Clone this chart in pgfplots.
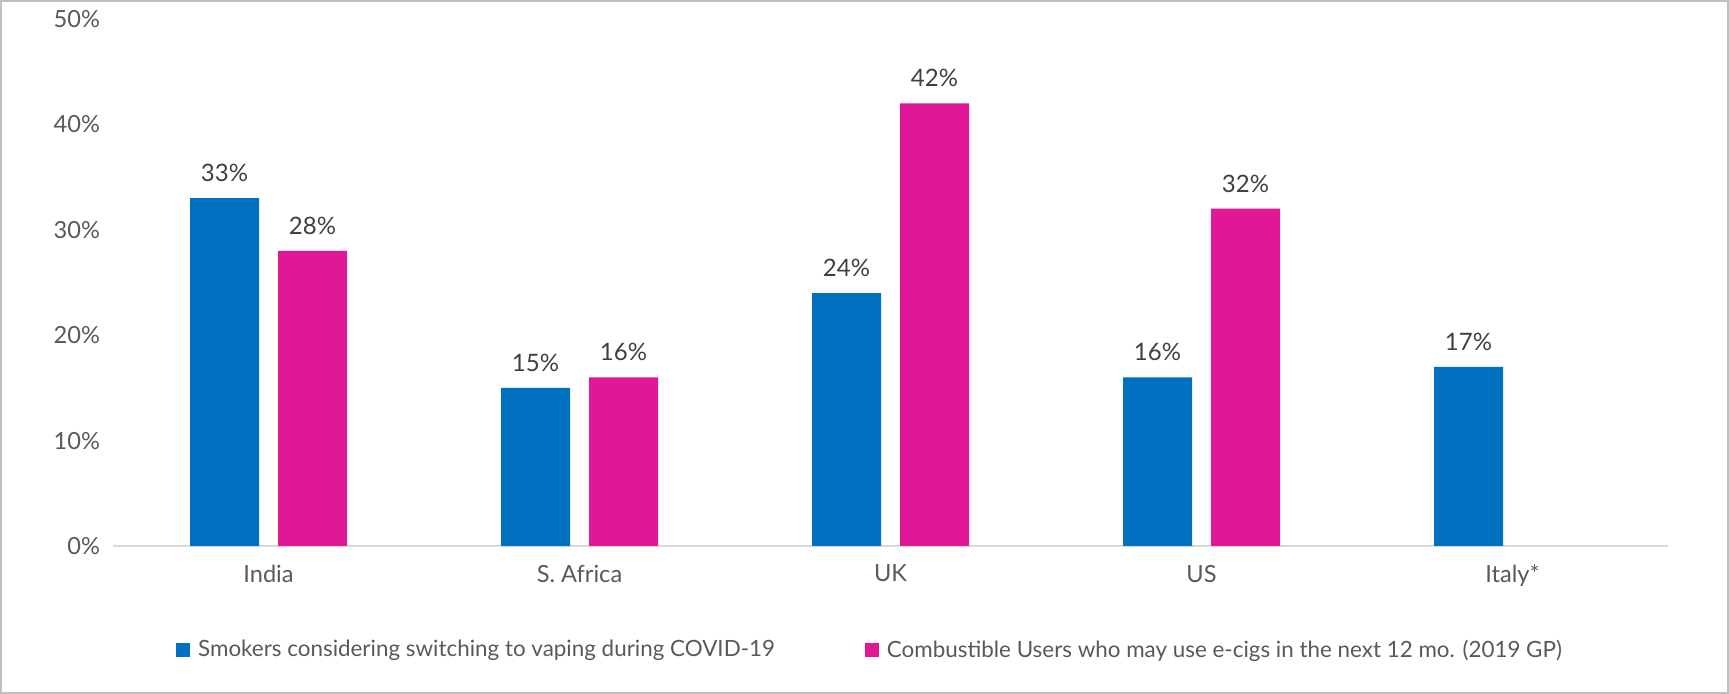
\documentclass[border=0pt]{standalone}
\usepackage{fontspec}
\setmainfont{Lato}
\usepackage{pgfplots}
\pgfplotsset{compat=1.18}
\definecolor{barblue}{RGB}{0,112,192}
\definecolor{barpink}{RGB}{224,24,150}
\definecolor{ticktext}{RGB}{89,89,89}
\definecolor{valtext}{RGB}{64,64,64}
\definecolor{framegray}{RGB}{191,191,191}
\definecolor{axisgray}{RGB}{217,217,217}
\begin{document}
\begin{tikzpicture}
\useasboundingbox (-56.5bp,-74bp) rectangle (808bp,273bp);
\draw[framegray, line width=1bp] (-55.75bp,-73.25bp) rectangle (807.25bp,272.25bp);
\begin{axis}[
  at={(0,0)}, anchor=south west,
  scale only axis,
  width=777.5bp, height=263.5bp,
  ybar=9.5bp, bar width=34.5bp,
  xmin=-0.5, xmax=4.5,
  ymin=0, ymax=50,
  xtick={0,1,2,3,4},
  xticklabels={India,S. Africa,UK,US,Italy*},
  ytick={0,10,20,30,40,50},
  yticklabels={0\%,10\%,20\%,30\%,40\%,50\%},
  major tick length=0pt,
  axis x line=bottom, axis y line=left,
  x axis line style={draw=axisgray, line width=1bp, -},
  y axis line style={draw=none},
  /pgf/number format/assume math mode=true,
  tick label style={font=\fontsize{11.8bp}{14bp}\selectfont, text=ticktext},
  xticklabel style={yshift=-6bp},
  yticklabel style={xshift=-3bp},
  nodes near coords={\pgfmathprintnumber{\pgfplotspointmeta}\%},
  every node near coord/.append style={font=\fontsize{12bp}{14bp}\selectfont, text=valtext, anchor=center, yshift=12.5bp},
  legend columns=2,
  legend style={draw=none, fill=none, at={(0.4875,-0.197)}, anchor=center,
    font=\fontsize{11.2bp}{14bp}\selectfont, text=ticktext,
    /tikz/every even column/.append style={column sep=43bp}},
  legend image code/.code={\fill[#1] (0bp,-3.5bp) rectangle (7bp,3.5bp); \path (9bp,0bp);},
]
\addplot[fill=barblue, draw=none] coordinates {(0,33) (1,15) (2,24) (3,16) (4,17)};
\addplot[fill=barpink, draw=none] coordinates {(0,28) (1,16) (2,42) (3,32)};
\legend{Smokers considering switching to vaping during COVID-19, Combustible Users who may use e-cigs in the next 12 mo. (2019 GP)}
\end{axis}
\end{tikzpicture}
\end{document}
